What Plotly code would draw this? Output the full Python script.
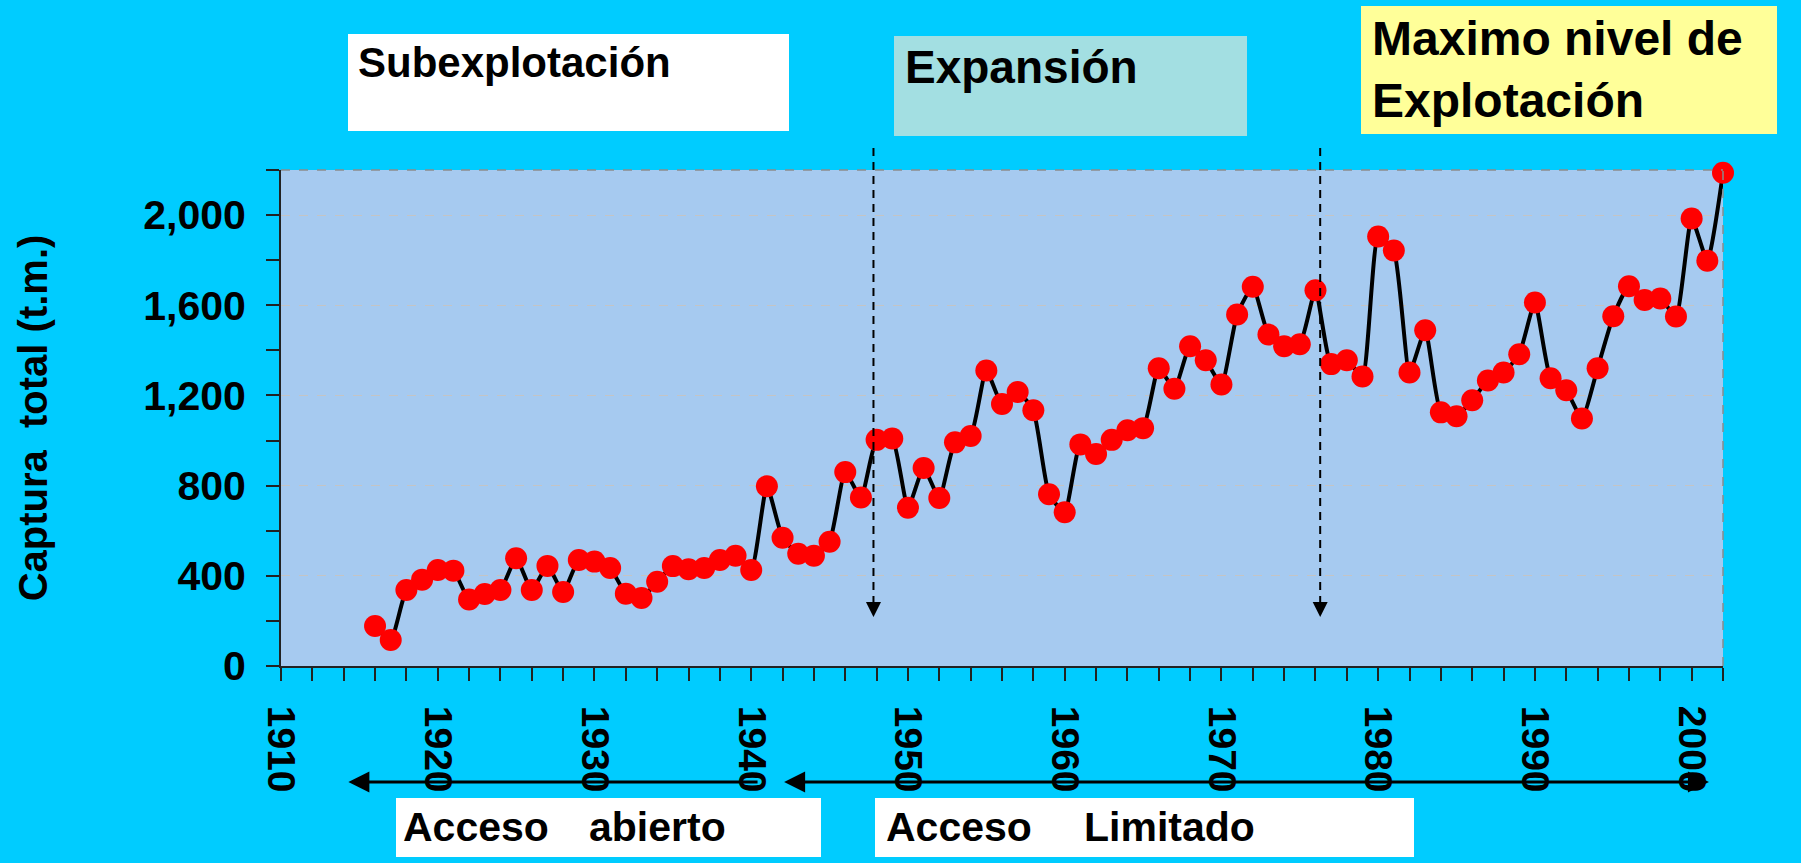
import plotly.graph_objects as go

# ---------------- data ----------------
years = list(range(1916, 2003))
catch = [177, 115, 337, 383, 426, 423, 295, 319, 337, 478,
         337, 444, 328, 470, 463, 435, 321, 302, 374, 443,
         429, 435, 470, 489, 426, 797, 569, 498, 489, 551,
         860, 747, 1003, 1009, 702, 878, 745, 992, 1020, 1311,
         1162, 1215, 1134, 762, 682, 983, 940, 1003, 1046, 1055,
         1321, 1230, 1418, 1356, 1249, 1559, 1682, 1470, 1418, 1427,
         1667, 1339, 1356, 1284, 1905, 1843, 1302, 1489, 1125, 1108,
         1179, 1266, 1302, 1383, 1612, 1276, 1223, 1098, 1321, 1551,
         1684, 1623, 1630, 1550, 1985, 1798, 2188]
y_ticks = [0, 400, 800, 1200, 1600, 2000]
phase_breaks = [1947.8, 1976.3]
phase_titles = ["Subexplotación", "Expansión", "Maximo nivel de<br>Explotación"]
access_labels = ["Acceso", "abierto", "Acceso", "Limitado"]

FONT = "Liberation Sans, Arial, sans-serif"

# ---------------- geometry (px) ----------------
W, H = 1801, 863
L, R, T, B = 281, 1723, 170, 666


def px(xp):
    return (xp - L) / (R - L)


def py(yp):
    return (B - yp) / (B - T)


fig = go.Figure()
fig.add_trace(go.Scatter(
    x=years, y=catch, mode="lines+markers",
    line=dict(color="black", width=4, shape="spline", smoothing=0.5),
    marker=dict(color="#FF0000", size=22, line=dict(width=0)),
    showlegend=False, cliponaxis=False,
))

shapes = []
annotations = []

# dashed top / right border of plot area
shapes.append(dict(type="line", xref="paper", yref="paper", x0=0, x1=1, y0=1, y1=1,
                   line=dict(color="#8C8C8C", width=1.5, dash="dash")))
shapes.append(dict(type="line", xref="paper", yref="paper", x0=1, x1=1, y0=0, y1=1,
                   line=dict(color="#8C8C8C", width=1.5, dash="dash")))

# dashed vertical phase arrows
for xb in phase_breaks:
    shapes.append(dict(type="line", xref="x", yref="paper", x0=xb, x1=xb,
                       y0=0.125, y1=py(144),
                       line=dict(color="black", width=2, dash="8px,6px")))
    annotations.append(dict(x=xb, y=217, xref="x", yref="y", ax=0, ay=-14,
                            showarrow=True, arrowhead=2, arrowsize=1.5,
                            arrowwidth=2, arrowcolor="black", text=""))

# top boxes
box_specs = [
    (348, 789, 34, 131, "white"),
    (894, 1247, 36, 136, "#A3DFE2"),
    (1361, 1777, 6, 134, "#FFFF99"),
]
for x0, x1, y0, y1, col in box_specs:
    shapes.append(dict(type="rect", xref="paper", yref="paper",
                       x0=px(x0), x1=px(x1), y0=py(y1), y1=py(y0),
                       fillcolor=col, line=dict(width=0), layer="above"))

title_pos = [(357, 63, 42), (904, 67, 46), (1371, 70, 48)]
for (xp, yp, fs), txt in zip(title_pos, phase_titles):
    annotations.append(dict(x=px(xp), y=py(yp), xref="paper", yref="paper",
                            xanchor="left", yanchor="middle", align="left",
                            showarrow=False, text=txt, borderpad=0,
                            font=dict(family=FONT, size=fs, color="black", weight="bold")))

# bottom boxes
for x0, x1 in [(396, 821), (875, 1414)]:
    shapes.append(dict(type="rect", xref="paper", yref="paper",
                       x0=px(x0), x1=px(x1), y0=py(857), y1=py(798),
                       fillcolor="white", line=dict(width=0), layer="above"))
for xp, txt in zip([402, 588, 885, 1083], access_labels):
    annotations.append(dict(x=px(xp), y=py(827), xref="paper", yref="paper",
                            xanchor="left", yanchor="middle", showarrow=False,
                            text=txt, borderpad=0,
                            font=dict(family=FONT, size=41, color="black", weight="bold")))

# horizontal access arrows
arr_y = py(782)
annotations.append(dict(x=1914.3, y=arr_y, xref="x", yref="paper",
                        ax=1940.5, ay=0, axref="x", ayref="pixel",
                        showarrow=True, arrowhead=2, arrowsize=1.4, arrowwidth=3,
                        arrowcolor="black", text=""))
annotations.append(dict(x=1942.1, y=arr_y, xref="x", yref="paper",
                        ax=2001.2, ay=0, axref="x", ayref="pixel",
                        showarrow=True, arrowhead=2, arrowsize=1.4, arrowwidth=3,
                        arrowside="end+start",
                        arrowcolor="black", text=""))

fig.update_layout(
    width=W, height=H,
    margin=dict(l=L, r=W - R, t=T, b=H - B, autoexpand=False),
    paper_bgcolor="#00CCFF", plot_bgcolor="#A6CAF0",
    shapes=shapes, annotations=annotations,
    font=dict(family=FONT, color="black"),
)
fig.update_xaxes(
    range=[1910, 2002], tick0=1910, dtick=10, tickangle=90,
    ticks="outside", ticklen=13, tickwidth=1.5, tickcolor="#222",
    minor=dict(dtick=2, ticks="outside", ticklen=13, tickwidth=1.5, tickcolor="#222"),
    showline=True, linecolor="#222", linewidth=2, showgrid=False, zeroline=False,
    tickfont=dict(family=FONT, size=39, color="black", weight="bold"),
    ticklabelstandoff=17,
)
fig.update_yaxes(
    range=[0, 2200], tickvals=y_ticks, tickformat=",d",
    ticks="outside", ticklen=13, tickwidth=1.5, tickcolor="#222",
    minor=dict(dtick=200, ticks="outside", ticklen=13, tickwidth=1.5, tickcolor="#222", showgrid=False),
    showline=True, linecolor="#222", linewidth=2,
    showgrid=True, gridcolor="#C4C4C4", griddash="dash", gridwidth=1, zeroline=False,
    tickfont=dict(family=FONT, size=41, color="black", weight="bold"),
    ticklabelstandoff=12,
    title=dict(text="Captura  total (t.m.)", standoff=83,
               font=dict(family=FONT, size=40, color="black", weight="bold")),
)

fig.write_html("out.html", config={"displayModeBar": False},
               post_script="document.body.style.margin='0';document.body.style.background='#00CCFF';")
